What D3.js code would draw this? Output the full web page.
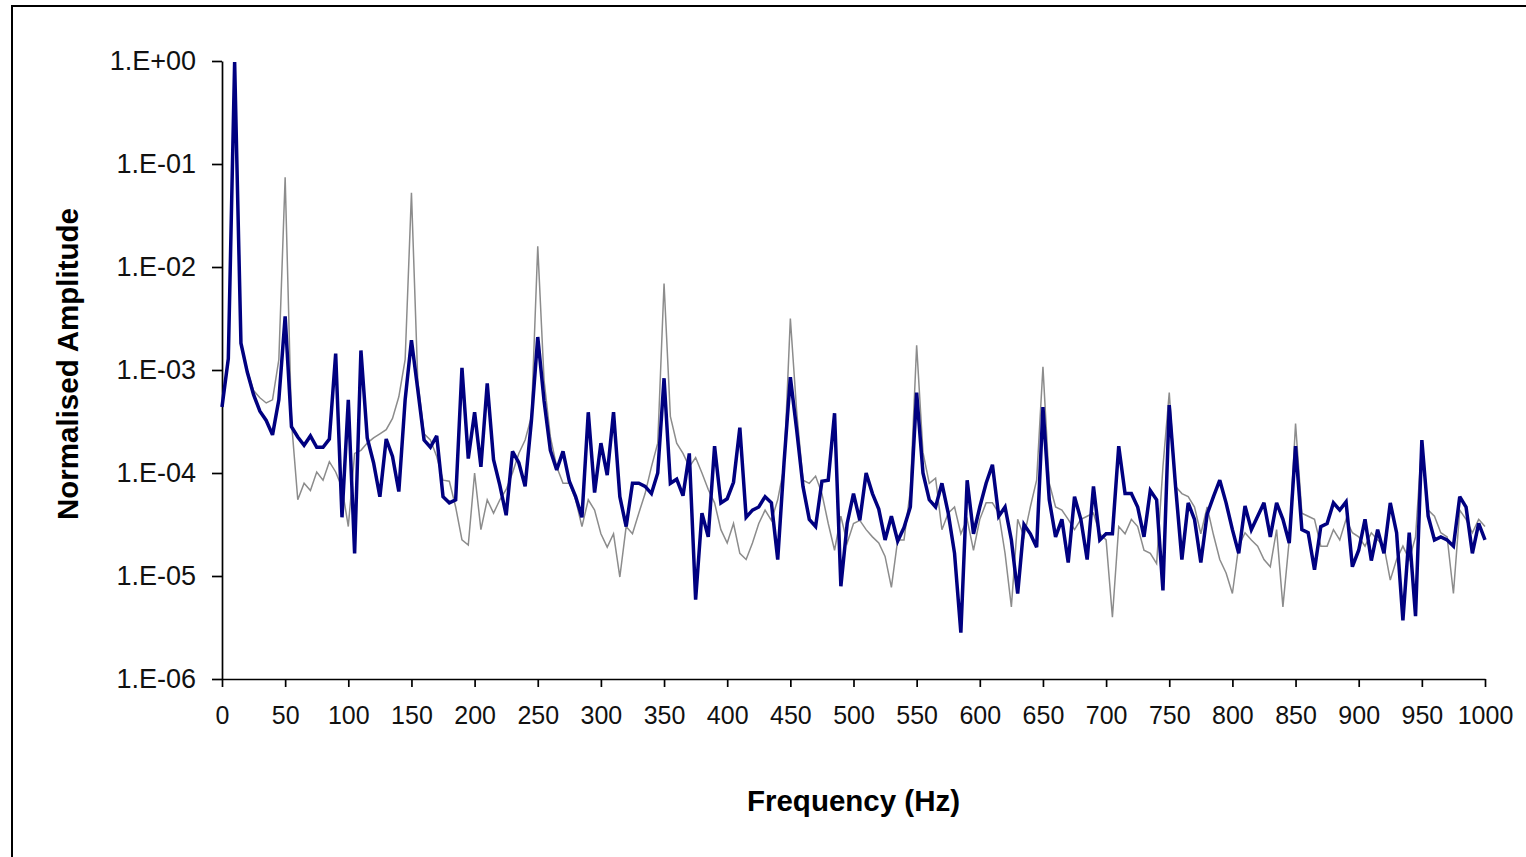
<!DOCTYPE html>
<html>
<head>
<meta charset="utf-8">
<script src="https://cdnjs.cloudflare.com/ajax/libs/d3/7.8.5/d3.min.js"></script>
<style>
  body { margin: 0; background: #fff; }
  svg { display: block; }
</style>
</head>
<body>
<script>
// frequency grid (Hz) shared by both spectra
const freqStep = 5;
const freqs = d3.range(0, 1000 + freqStep, freqStep);

// log10 of normalised amplitude, one value per 5 Hz
// navy (thick) trace
const blueLog = [
  -3.36,-2.89,-0.01,-2.74,-3.02,-3.24,-3.40,-3.49,-3.63,-3.29,
  -2.48,-3.55,-3.65,-3.73,-3.64,-3.75,-3.75,-3.67,-2.84,-4.43,
  -3.29,-4.78,-2.81,-3.66,-3.90,-4.23,-3.67,-3.84,-4.18,-3.29,
  -2.71,-3.19,-3.68,-3.75,-3.64,-4.23,-4.29,-4.26,-2.98,-3.86,
  -3.41,-3.94,-3.13,-3.87,-4.12,-4.41,-3.79,-3.90,-4.13,-3.49,
  -2.68,-3.30,-3.78,-3.97,-3.79,-4.08,-4.23,-4.43,-3.41,-4.19,
  -3.71,-4.02,-3.41,-4.23,-4.52,-4.10,-4.10,-4.13,-4.20,-4.00,
  -3.08,-4.10,-4.06,-4.22,-3.81,-5.23,-4.39,-4.62,-3.74,-4.29,
  -4.25,-4.09,-3.56,-4.43,-4.36,-4.33,-4.23,-4.29,-4.84,-3.90,
  -3.07,-3.58,-4.13,-4.45,-4.52,-4.08,-4.07,-3.42,-5.10,-4.49,
  -4.20,-4.46,-4.00,-4.20,-4.35,-4.65,-4.42,-4.66,-4.53,-4.33,
  -3.22,-4.00,-4.26,-4.33,-4.10,-4.39,-4.78,-5.55,-4.07,-4.59,
  -4.33,-4.10,-3.92,-4.42,-4.33,-4.65,-5.17,-4.50,-4.59,-4.72,
  -3.36,-4.26,-4.62,-4.45,-4.87,-4.23,-4.45,-4.84,-4.13,-4.65,
  -4.59,-4.59,-3.74,-4.20,-4.20,-4.33,-4.62,-4.17,-4.26,-5.14,
  -3.34,-4.13,-4.84,-4.29,-4.45,-4.87,-4.40,-4.23,-4.07,-4.29,
  -4.55,-4.78,-4.32,-4.55,-4.42,-4.29,-4.62,-4.29,-4.45,-4.68,
  -3.74,-4.55,-4.58,-4.94,-4.52,-4.49,-4.29,-4.36,-4.28,-4.91,
  -4.75,-4.45,-4.85,-4.55,-4.78,-4.29,-4.58,-5.43,-4.58,-5.39,
  -3.68,-4.42,-4.65,-4.62,-4.65,-4.71,-4.23,-4.33,-4.78,-4.49,
  -4.65
];

// grey (thin) trace
const greyLog = [
  -3.35,-2.90,-0.02,-2.74,-3.00,-3.20,-3.27,-3.32,-3.29,-2.90,
  -1.13,-3.50,-4.26,-4.10,-4.17,-3.99,-4.07,-3.89,-3.99,-4.14,
  -4.52,-3.81,-3.78,-3.71,-3.66,-3.62,-3.58,-3.47,-3.26,-2.90,
  -1.28,-3.10,-3.62,-3.68,-3.84,-4.07,-4.08,-4.33,-4.65,-4.70,
  -4.00,-4.55,-4.26,-4.39,-4.26,-4.16,-4.00,-3.81,-3.68,-3.45,
  -1.80,-3.10,-3.65,-3.94,-4.10,-4.10,-4.26,-4.52,-4.26,-4.36,
  -4.59,-4.72,-4.59,-5.01,-4.52,-4.59,-4.39,-4.20,-3.94,-3.71,
  -2.16,-3.45,-3.71,-3.81,-3.94,-3.85,-4.00,-4.16,-4.29,-4.55,
  -4.68,-4.49,-4.78,-4.84,-4.68,-4.49,-4.36,-4.46,-4.26,-3.94,
  -2.50,-3.40,-4.07,-4.10,-4.03,-4.20,-4.49,-4.75,-4.42,-4.68,
  -4.49,-4.46,-4.55,-4.62,-4.68,-4.81,-5.11,-4.65,-4.65,-4.17,
  -2.76,-3.80,-4.10,-4.05,-4.55,-4.39,-4.33,-4.59,-4.45,-4.75,
  -4.45,-4.29,-4.29,-4.39,-4.78,-5.30,-4.45,-4.62,-4.33,-4.07,
  -2.97,-4.10,-4.33,-4.36,-4.45,-4.55,-4.45,-4.42,-4.39,-4.59,
  -4.65,-5.40,-4.52,-4.59,-4.45,-4.52,-4.75,-4.78,-4.88,-3.94,
  -3.22,-4.13,-4.20,-4.23,-4.33,-4.59,-4.33,-4.60,-4.84,-4.97,
  -5.17,-4.71,-4.58,-4.65,-4.71,-4.84,-4.91,-4.55,-5.30,-4.65,
  -3.52,-4.39,-4.42,-4.45,-4.71,-4.71,-4.55,-4.65,-4.45,-4.58,
  -4.62,-4.71,-4.58,-4.65,-4.71,-5.04,-4.84,-4.71,-4.84,-4.62,
  -3.70,-4.36,-4.42,-4.58,-4.62,-5.17,-4.36,-4.45,-4.58,-4.45,
  -4.52
];

const xTicks = d3.range(0, 1001, 50);
const yTicks = [1, 1e-1, 1e-2, 1e-3, 1e-4, 1e-5, 1e-6];
const yTickLabels = ['1.E+00', '1.E-01', '1.E-02', '1.E-03', '1.E-04', '1.E-05', '1.E-06'];

const xTitle = 'Frequency (Hz)';
const yTitle = 'Normalised Amplitude';

const W = 1526, H = 857;
const plot = { left: 222, right: 1485, top: 61, bottom: 679 };
const font = '"Liberation Sans", Arial, sans-serif';

let svg = d3.select('body')
  .append('svg')
  .attr('width', W)
  .attr('height', H);

svg.append('rect')
  .attr('width', W).attr('height', H)
  .attr('fill', '#fff');

// chart frame (runs off the right and bottom edge)
svg.append('rect')
  .attr('x', 12).attr('y', 6)
  .attr('width', W + 50).attr('height', H + 50)
  .attr('fill', 'none')
  .attr('stroke', '#000')
  .attr('stroke-width', 2);

const x = d3.scaleLinear().domain([0, 1000]).range([plot.left, plot.right]);
const y = d3.scaleLog().domain([1e-6, 1]).range([plot.bottom, plot.top]);

const toPoints = (vals) => freqs.map((f, i) => ({ f: f, a: Math.pow(10, vals[i]) }));

const line = d3.line()
  .x((d) => x(d.f))
  .y((d) => y(d.a));

// axes
let yAxis = svg.append('g')
  .attr('transform', `translate(${plot.left},0)`)
  .call(d3.axisLeft(y)
    .tickValues(yTicks)
    .tickFormat((d, i) => yTickLabels[i])
    .tickSize(10)
    .tickSizeOuter(0)
    .tickPadding(16));

let xAxis = svg.append('g')
  .attr('transform', `translate(0,${plot.bottom})`)
  .call(d3.axisBottom(x)
    .tickValues(xTicks)
    .tickFormat(d3.format('d'))
    .tickSize(8)
    .tickSizeOuter(0)
    .tickPadding(19));

[yAxis, xAxis].forEach((g) => {
  g.selectAll('path.domain').attr('stroke', '#000').attr('stroke-width', 1.7);
  g.selectAll('.tick line').attr('stroke', '#000').attr('stroke-width', 1.7);
  g.selectAll('.tick text')
    .attr('fill', '#111')
    .style('font-family', font);
});
yAxis.selectAll('.tick text').style('font-size', '27px');
xAxis.selectAll('.tick text').style('font-size', '25px');

// series: grey underneath, navy on top
svg.append('path')
  .datum(toPoints(greyLog))
  .attr('fill', 'none')
  .attr('stroke', '#8c8c8c')
  .attr('stroke-width', 1.5)
  .attr('stroke-linejoin', 'miter')
  .attr('d', line);

svg.append('path')
  .datum(toPoints(blueLog))
  .attr('fill', 'none')
  .attr('stroke', '#000080')
  .attr('stroke-width', 3.5)
  .attr('stroke-linejoin', 'miter')
  .attr('stroke-miterlimit', 3)
  .attr('d', line);

// axis titles
svg.append('text')
  .attr('x', (plot.left + plot.right) / 2)
  .attr('y', 811)
  .attr('text-anchor', 'middle')
  .style('font-family', font)
  .style('font-weight', 'bold')
  .style('font-size', '29.5px')
  .text(xTitle);

svg.append('text')
  .attr('transform', `translate(78,${(plot.top + plot.bottom) / 2 - 6}) rotate(-90)`)
  .attr('text-anchor', 'middle')
  .style('font-family', font)
  .style('font-weight', 'bold')
  .style('font-size', '29.5px')
  .text(yTitle);
</script>
</body>
</html>
